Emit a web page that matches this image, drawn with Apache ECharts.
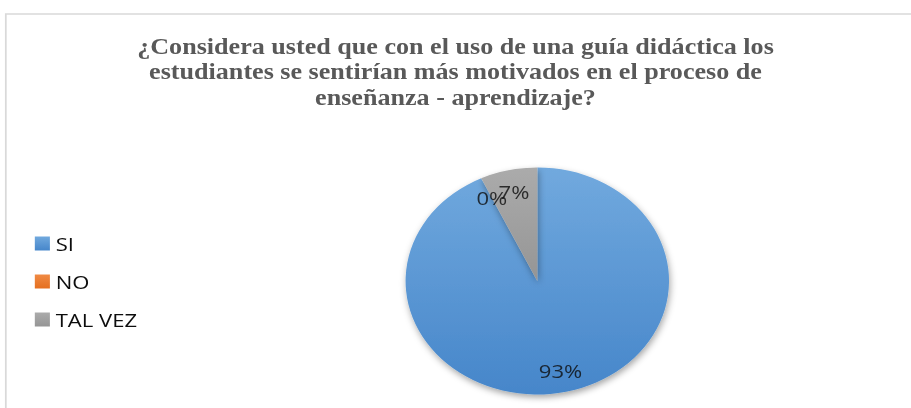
<!DOCTYPE html>
<html>
<head>
<meta charset="utf-8">
<script src="https://cdn.jsdelivr.net/npm/echarts@6/dist/echarts.min.js"></script>
<style>
  html, body { margin: 0; padding: 0; background: #fff; overflow: hidden; }
  /* la imagen original está estirada en horizontal: se dibuja a 785px y se escala */
  #chart { width: 785px; height: 408px; transform: scaleX(1.1605); transform-origin: 0 0; }
</style>
</head>
<body>
<div id="chart"></div>
<script>
// datos
var categorias = ['SI', 'NO', 'TAL VEZ'];
var porcentajes = [93, 0, 7];

var titulo = '¿Considera usted que con el uso de una guía didáctica los\n' +
  'estudiantes se sentirían más motivados en el proceso de\n' +
  'enseñanza - aprendizaje?';

// colores estilo Excel (con degradado)
var colores = [
  ['#71a9de', '#4686ca'],
  ['#f08a44', '#e56f1f'],
  ['#ababab', '#959595']
];

function degradado(par) {
  return new echarts.graphic.LinearGradient(0, 0, 0, 1, [
    { offset: 0, color: par[0] },
    { offset: 1, color: par[1] }
  ]);
}

var datos = categorias.map(function (nombre, i) {
  return { name: nombre, value: porcentajes[i], itemStyle: { color: degradado(colores[i]) } };
});

// las etiquetas van en un eje polar superpuesto (el pie oculta la etiqueta del 0)
var total = porcentajes.reduce(function (a, b) { return a + b; }, 0);
var acumulado = 0;
var puntosEtiqueta = porcentajes.map(function (v) {
  var medio = acumulado + v / 2;
  acumulado += v;
  return [0.81, medio];
});

var centro = [463, 281];
var radio = 113.5;

var chart = echarts.init(document.getElementById('chart'), null, { renderer: 'svg' });

var option = {
  animation: false,
  graphic: [{
    type: 'rect',
    z: -10,
    shape: { x: 5, y: 14, width: 900, height: 500 },
    style: { fill: 'none', stroke: '#d9d9d9', lineWidth: 1.5 }
  }],
  title: {
    text: titulo,
    left: 'center',
    top: 33,
    padding: 0,
    textStyle: {
      fontFamily: 'Liberation Serif',
      fontWeight: 'bold',
      fontSize: 22.5,
      lineHeight: 25.5,
      color: '#595959'
    }
  },
  legend: {
    orient: 'vertical',
    left: 30,
    top: 234,
    padding: 0,
    icon: 'rect',
    itemWidth: 13,
    itemHeight: 14,
    itemGap: 19,
    data: categorias,
    textStyle: {
      fontFamily: 'Open Sans',
      fontSize: 19,
      lineHeight: 19,
      color: '#0d0d0d'
    }
  },
  polar: { center: centro, radius: radio },
  angleAxis: { type: 'value', min: 0, max: total, startAngle: 90, clockwise: true, show: false },
  radiusAxis: { type: 'value', min: 0, max: 1, show: false },
  series: [
    {
      type: 'pie',
      center: centro,
      radius: radio,
      startAngle: 90,
      clockwise: true,
      label: { show: false },
      labelLine: { show: false },
      itemStyle: {
        shadowBlur: 6,
        shadowOffsetX: 1,
        shadowOffsetY: 3,
        shadowColor: 'rgba(0,0,0,0.35)'
      },
      data: datos
    },
    {
      name: 'etiquetas',
      type: 'scatter',
      coordinateSystem: 'polar',
      silent: true,
      z: 5,
      symbolSize: 0,
      data: puntosEtiqueta,
      label: {
        show: true,
        position: 'inside',
        formatter: function (p) { return porcentajes[p.dataIndex] + '%'; },
        fontFamily: 'Open Sans',
        fontSize: 19,
        color: '#0d0d0d'
      }
    }
  ]
};

chart.setOption(option);
</script>
</body>
</html>
